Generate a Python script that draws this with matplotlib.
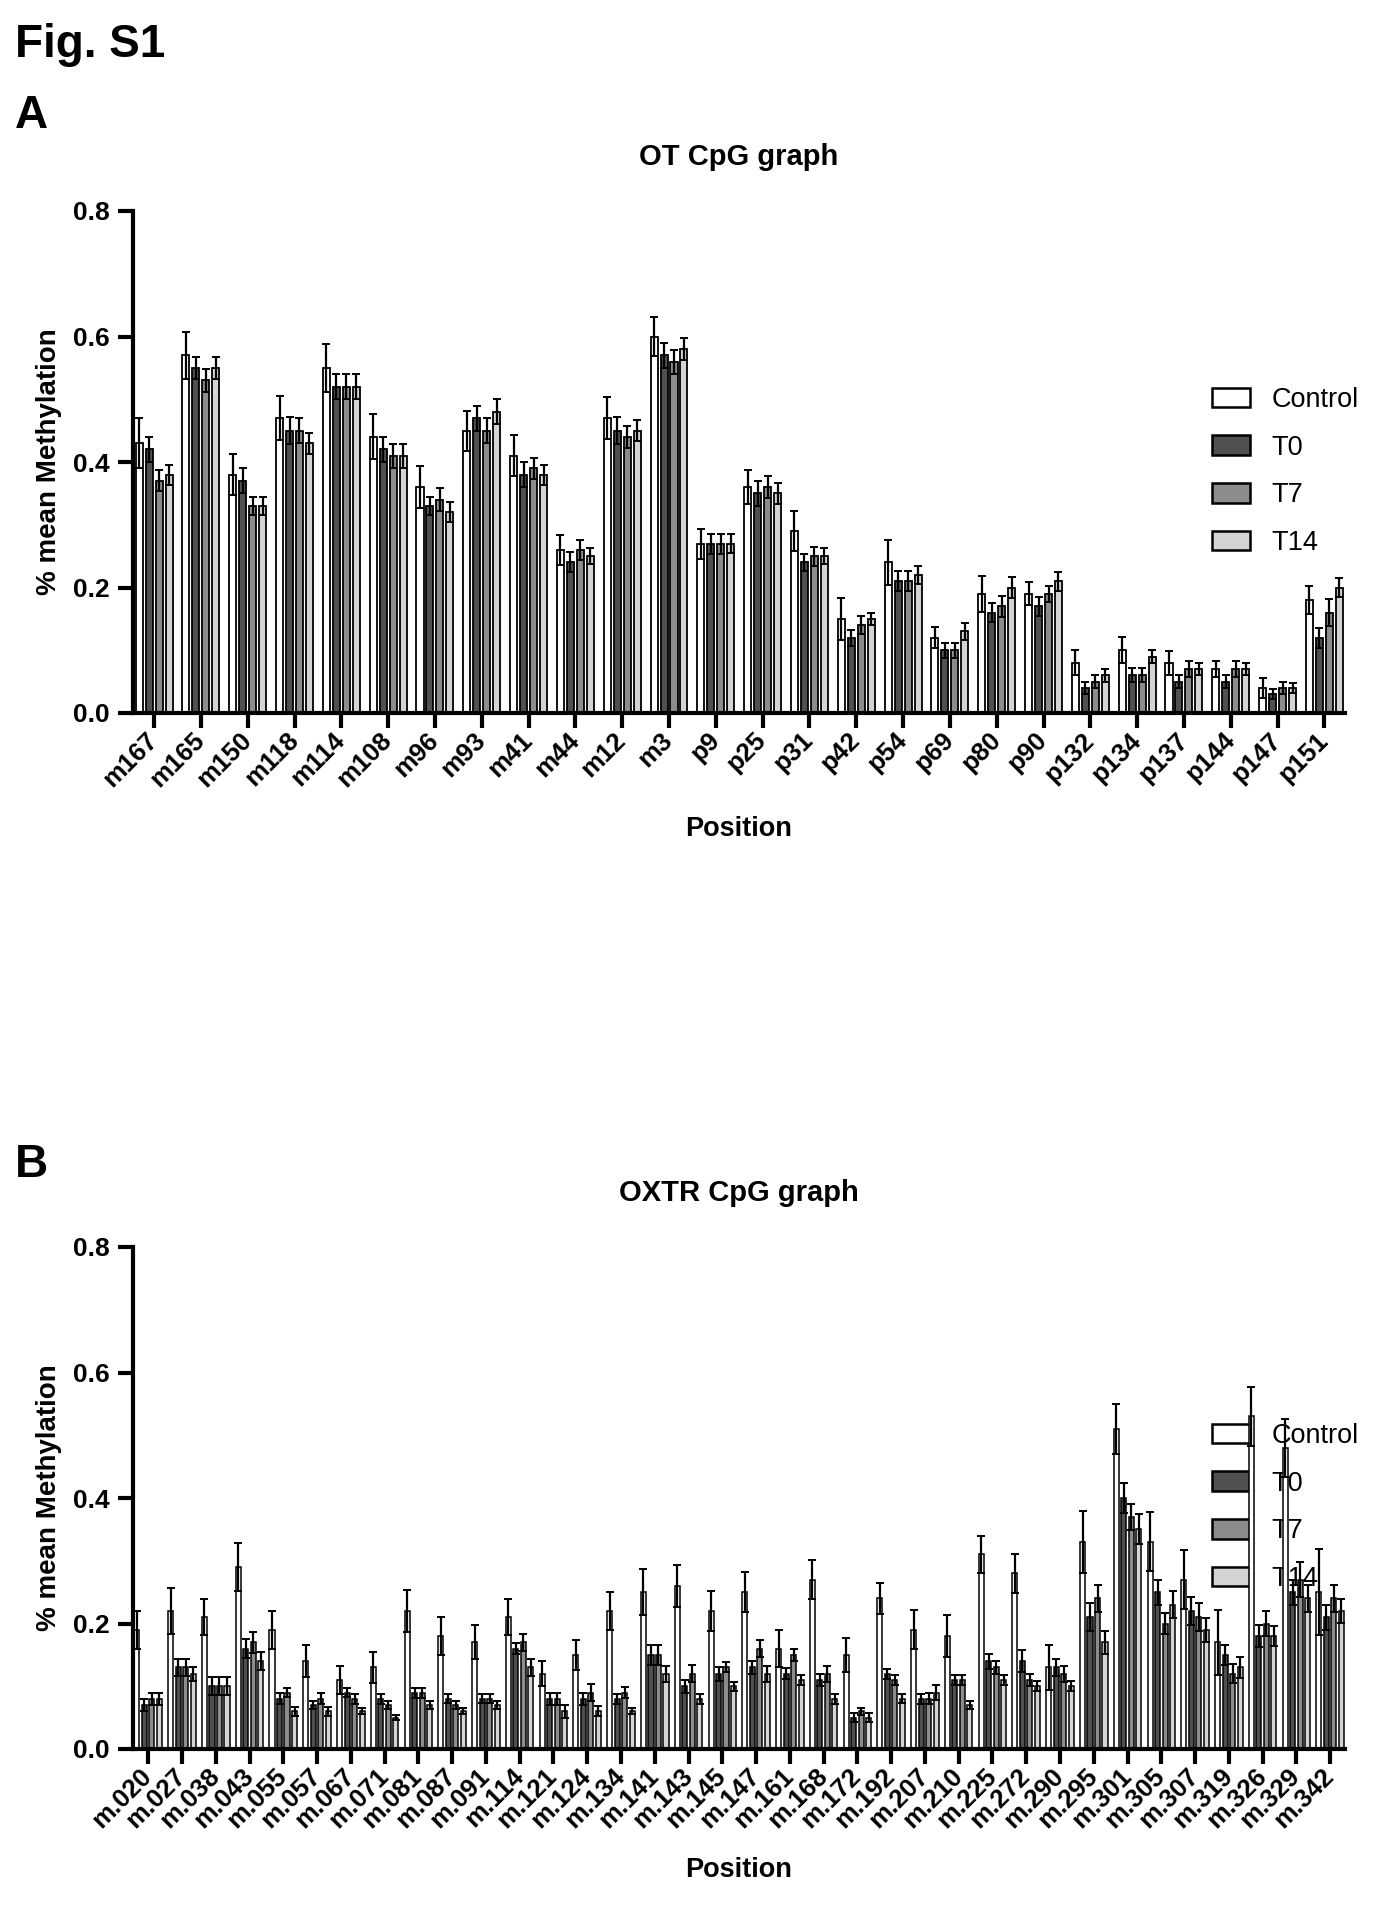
import matplotlib
matplotlib.use("Agg")
import matplotlib.pyplot as plt
from matplotlib.transforms import ScaledTranslation
import numpy as np

plt.rcParams["font.family"] = ["Liberation Sans", "DejaVu Sans"]

# --- Panel A: OT ---
ot_positions = ["m167", "m165", "m150", "m118", "m114", "m108", "m96", "m93", "m41",
                "m44", "m12", "m3", "p9", "p25", "p31", "p42", "p54", "p69", "p80",
                "p90", "p132", "p134", "p137", "p144", "p147", "p151"]
ot_control = [0.43, 0.57, 0.38, 0.47, 0.55, 0.44, 0.36, 0.45, 0.41, 0.26, 0.47, 0.60, 0.27,
              0.36, 0.29, 0.15, 0.24, 0.12, 0.19, 0.19, 0.08, 0.10, 0.08, 0.07, 0.04, 0.18]
ot_t0 = [0.42, 0.55, 0.37, 0.45, 0.52, 0.42, 0.33, 0.47, 0.38, 0.24, 0.45, 0.57, 0.27,
         0.35, 0.24, 0.12, 0.21, 0.10, 0.16, 0.17, 0.04, 0.06, 0.05, 0.05, 0.03, 0.12]
ot_t7 = [0.37, 0.53, 0.33, 0.45, 0.52, 0.41, 0.34, 0.45, 0.39, 0.26, 0.44, 0.56, 0.27,
         0.36, 0.25, 0.14, 0.21, 0.10, 0.17, 0.19, 0.05, 0.06, 0.07, 0.07, 0.04, 0.16]
ot_t14 = [0.38, 0.55, 0.33, 0.43, 0.52, 0.41, 0.32, 0.48, 0.38, 0.25, 0.45, 0.58, 0.27,
          0.35, 0.25, 0.15, 0.22, 0.13, 0.20, 0.21, 0.06, 0.09, 0.07, 0.07, 0.04, 0.20]
ot_control_sem = [0.040, 0.037, 0.033, 0.035, 0.038, 0.036, 0.033, 0.032, 0.033, 0.024, 0.034,
                  0.031, 0.024, 0.027, 0.032, 0.034, 0.036, 0.017, 0.029, 0.018, 0.020, 0.021,
                  0.019, 0.013, 0.016, 0.023]
ot_t0_sem = [0.020, 0.018, 0.020, 0.022, 0.020, 0.020, 0.015, 0.020, 0.020, 0.016, 0.021, 0.020,
             0.016, 0.020, 0.014, 0.013, 0.016, 0.012, 0.015, 0.015, 0.009, 0.011, 0.010, 0.010,
             0.008, 0.016]
ot_t7_sem = [0.017, 0.018, 0.014, 0.020, 0.020, 0.019, 0.018, 0.020, 0.017, 0.016, 0.018, 0.019,
             0.016, 0.017, 0.015, 0.014, 0.016, 0.012, 0.017, 0.013, 0.010, 0.011, 0.013, 0.013,
             0.009, 0.021]
ot_t14_sem = [0.016, 0.018, 0.014, 0.017, 0.020, 0.019, 0.016, 0.020, 0.016, 0.013, 0.017, 0.018,
              0.015, 0.017, 0.013, 0.010, 0.014, 0.013, 0.016, 0.015, 0.010, 0.011, 0.010, 0.010,
              0.008, 0.015]

# --- Panel B: OXTR ---
oxtr_positions = ["m.020", "m.027", "m.038", "m.043", "m.055", "m.057", "m.067", "m.071",
                  "m.081", "m.087", "m.091", "m.114", "m.121", "m.124", "m.134", "m.141",
                  "m.143", "m.145", "m.147", "m.161", "m.168", "m.172", "m.192", "m.207",
                  "m.210", "m.225", "m.272", "m.290", "m.295", "m.301", "m.305", "m.307",
                  "m.319", "m.326", "m.329", "m.342"]
oxtr_control = [0.19, 0.22, 0.21, 0.29, 0.19, 0.14, 0.11, 0.13, 0.22, 0.18, 0.17, 0.21,
                0.12, 0.15, 0.22, 0.25, 0.26, 0.22, 0.25, 0.16, 0.27, 0.15, 0.24, 0.19,
                0.18, 0.31, 0.28, 0.13, 0.33, 0.51, 0.33, 0.27, 0.17, 0.53, 0.48, 0.25]
oxtr_t0 = [0.07, 0.13, 0.10, 0.16, 0.08, 0.07, 0.09, 0.08, 0.09, 0.08, 0.08, 0.16,
           0.08, 0.08, 0.08, 0.15, 0.10, 0.12, 0.13, 0.12, 0.11, 0.05, 0.12, 0.08,
           0.11, 0.14, 0.14, 0.13, 0.21, 0.40, 0.25, 0.22, 0.15, 0.18, 0.25, 0.21]
oxtr_t7 = [0.08, 0.13, 0.10, 0.17, 0.09, 0.08, 0.08, 0.07, 0.09, 0.07, 0.08, 0.17,
           0.08, 0.09, 0.09, 0.15, 0.12, 0.13, 0.16, 0.15, 0.12, 0.06, 0.11, 0.08,
           0.11, 0.13, 0.11, 0.12, 0.24, 0.37, 0.20, 0.21, 0.12, 0.20, 0.27, 0.24]
oxtr_t14 = [0.08, 0.12, 0.10, 0.14, 0.06, 0.06, 0.06, 0.05, 0.07, 0.06, 0.07, 0.13,
            0.06, 0.06, 0.06, 0.12, 0.08, 0.10, 0.12, 0.11, 0.08, 0.05, 0.08, 0.09,
            0.07, 0.11, 0.10, 0.10, 0.17, 0.35, 0.23, 0.19, 0.13, 0.18, 0.24, 0.22]
oxtr_control_sem = [0.030, 0.036, 0.029, 0.038, 0.030, 0.026, 0.023, 0.025, 0.034, 0.030,
                    0.027, 0.029, 0.020, 0.024, 0.030, 0.037, 0.034, 0.032, 0.032, 0.029,
                    0.031, 0.027, 0.025, 0.031, 0.033, 0.029, 0.031, 0.036, 0.049, 0.040,
                    0.047, 0.047, 0.052, 0.047, 0.046, 0.068]
oxtr_t0_sem = [0.009, 0.013, 0.014, 0.015, 0.009, 0.007, 0.007, 0.008, 0.008, 0.007, 0.007,
               0.009, 0.010, 0.010, 0.008, 0.016, 0.010, 0.011, 0.010, 0.009, 0.010, 0.007,
               0.008, 0.008, 0.008, 0.012, 0.017, 0.013, 0.022, 0.024, 0.020, 0.023, 0.016,
               0.018, 0.020, 0.020]
oxtr_t7_sem = [0.010, 0.013, 0.014, 0.017, 0.007, 0.009, 0.008, 0.006, 0.008, 0.007, 0.007,
               0.014, 0.010, 0.014, 0.009, 0.016, 0.014, 0.008, 0.013, 0.010, 0.013, 0.006,
               0.008, 0.009, 0.008, 0.010, 0.009, 0.013, 0.021, 0.021, 0.017, 0.022, 0.015,
               0.020, 0.028, 0.021]
oxtr_t14_sem = [0.010, 0.011, 0.014, 0.014, 0.007, 0.007, 0.005, 0.004, 0.006, 0.005, 0.006,
                0.013, 0.010, 0.008, 0.005, 0.013, 0.008, 0.007, 0.013, 0.008, 0.008, 0.007,
                0.007, 0.012, 0.006, 0.008, 0.008, 0.008, 0.018, 0.024, 0.021, 0.019, 0.017,
                0.016, 0.021, 0.019]

groups = ["Control", "T0", "T7", "T14"]
colors = ["#ffffff", "#505050", "#8c8c8c", "#d4d4d4"]


def draw_panel(ax, positions, series, sems, title, step, width, lw, legend_xy):
    x = np.arange(len(positions))
    offsets = (np.arange(4) - 1.5) * step
    handles = []
    for i in range(4):
        b = ax.bar(x + offsets[i], series[i], width, color=colors[i], edgecolor="black",
                   linewidth=lw, label=groups[i], zorder=2,
                   yerr=sems[i], capsize=3, error_kw=dict(elinewidth=1.6, capthick=1.4,
                                                           ecolor="black", zorder=3))
        handles.append(b)

    ax.set_xlim(-0.45, len(positions) - 0.56)
    ax.set_ylim(0, 0.8)
    ax.set_yticks([0.0, 0.2, 0.4, 0.6, 0.8])
    ax.set_yticklabels(["0.0", "0.2", "0.4", "0.6", "0.8"], fontsize=19, fontweight="bold")
    ax.set_xticks(x)
    ax.set_xticklabels(positions, rotation=45, ha="right", va="center",
                       rotation_mode="anchor", fontsize=18.5, fontweight="bold")
    for lab in ax.get_xticklabels():
        lab.set_transform(lab.get_transform() + ScaledTranslation(5 / 72, -6 / 72, fig.dpi_scale_trans))

    for s in ["top", "right"]:
        ax.spines[s].set_visible(False)
    for s in ["left", "bottom"]:
        ax.spines[s].set_linewidth(3)
    ax.tick_params(axis="both", width=3, length=11, pad=6)

    ax.set_title(title, fontsize=21, fontweight="bold", pad=33)
    ax.set_ylabel("% mean Methylation", fontsize=20, fontweight="bold")
    ax.yaxis.set_label_coords(-0.069, 0.5)
    ax.yaxis.label.set_va("center")
    ax.set_xlabel("Position", fontsize=19.5, fontweight="bold")

    leg = ax.legend(handles, groups, loc="upper left", bbox_to_anchor=legend_xy,
                    bbox_transform=fig.transFigure, frameon=False, fontsize=19.5,
                    handlelength=1.4, handleheight=0.75, handletextpad=0.8,
                    labelspacing=0.8, borderpad=0, borderaxespad=0)
    for h in leg.legend_handles:
        h.set_linewidth(1.8)
    # bars are drawn over the legend, as in the original
    leg.set_zorder(1)
    return ax


fig = plt.figure(figsize=(13.86, 19.16), dpi=100)

ax1 = fig.add_axes([133 / 1386, 1 - 713 / 1916, 1212 / 1386, 502 / 1916])
draw_panel(ax1, ot_positions, [ot_control, ot_t0, ot_t7, ot_t14],
           [ot_control_sem, ot_t0_sem, ot_t7_sem, ot_t14_sem],
           "OT CpG graph", 0.213, 0.15, 1.3, (1212 / 1386, 1 - 387 / 1916))
ax1.xaxis.set_label_coords(0.5, -0.231)
ax1.xaxis.label.set_va("center")

ax2 = fig.add_axes([133 / 1386, 1 - 1749 / 1916, 1212 / 1386, 502 / 1916])
draw_panel(ax2, oxtr_positions, [oxtr_control, oxtr_t0, oxtr_t7, oxtr_t14],
           [oxtr_control_sem, oxtr_t0_sem, oxtr_t7_sem, oxtr_t14_sem],
           "OXTR CpG graph", 0.222, 0.15, 1.1, (1212 / 1386, 1 - 1423 / 1916))
ax2.xaxis.set_label_coords(0.5, -0.241)
ax2.xaxis.label.set_va("center")

fig.text(15 / 1386, 1 - 57 / 1916, "Fig. S1", fontsize=33, fontweight="bold", va="baseline")
fig.text(15 / 1386, 1 - 128 / 1916, "A", fontsize=33, fontweight="bold", va="baseline")
fig.text(15 / 1386, 1 - 1177 / 1916, "B", fontsize=33, fontweight="bold", va="baseline")

fig.savefig("out.png", dpi=100)
